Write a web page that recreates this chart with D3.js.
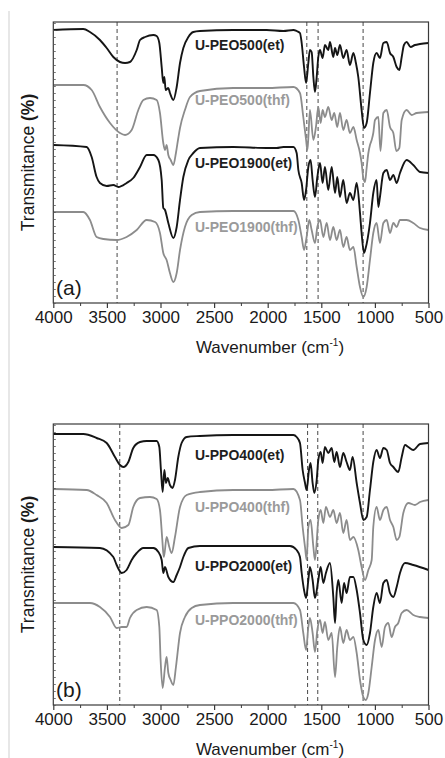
<!DOCTYPE html>
<html><head><meta charset="utf-8">
<script src="https://cdn.jsdelivr.net/npm/d3@7"></script>
<style>body{margin:0;background:#fff}svg{display:block}text{font-family:"Liberation Sans",Arial,sans-serif}</style>
</head><body><svg id="c" width="445" height="758"></svg>
<script>
// ---------- DATA (wavenumber cm-1, transmittance a.u. incl. offset) ----------
const xTicks = [4000,3500,3000,2500,2000,1500,1000,500];
const xMinorTicks = [3750,3250,2750,2250,1750,1250,750];
const panelNames = ["(a)","(b)"];
const labelsA = ["U-PEO500(et)","U-PEO500(thf)","U-PEO1900(et)","U-PEO1900(thf)"];
const labelsB = ["U-PPO400(et)","U-PPO400(thf)","U-PPO2000(et)","U-PPO2000(thf)"];
const dashesA = [3405,1635,1530,1110];
const dashesB = [3380,1628,1533,1110];

const peo500et = [[4000,273],[3720,274],[3658,271],[3565,263],[3502,255],[3440,246],[3378,241],[3331,240],[3285,241],[3222,253],[3191,263],[3144,266],[3067,268],[3036,267],[3011,260],[2989,236],[2974,220],[2964,226],[2952,213],[2927,215],[2912,210],[2880,203],[2849,216],[2818,240],[2787,255],[2740,266],[2694,271],[2632,272],[2321,273],[2010,273],[1854,272],[1760,273],[1730,272],[1699,270],[1683,260],[1661,236],[1642,220],[1621,240],[1606,253],[1590,251],[1574,226],[1559,211],[1543,226],[1528,246],[1512,253],[1488,245],[1466,258],[1435,253],[1419,261],[1388,246],[1372,255],[1351,248],[1326,258],[1295,245],[1264,253],[1233,238],[1201,250],[1177,240],[1155,226],[1124,193],[1102,175],[1077,180],[1046,210],[1015,240],[984,250],[953,245],[921,260],[890,261],[859,250],[828,246],[797,236],[772,233],[750,246],[729,258],[704,261],[667,256],[626,258],[579,259],[500,260]];
const peo500thf = [[4000,218],[3720,218],[3642,213],[3565,196],[3471,180],[3378,170],[3331,168],[3269,173],[3207,193],[3160,203],[3098,205],[3036,203],[3005,190],[2974,160],[2958,153],[2943,158],[2927,148],[2905,143],[2880,138],[2856,150],[2834,165],[2818,175],[2772,193],[2725,206],[2632,212],[2321,215],[2010,215],[1760,216],[1699,210],[1668,186],[1642,163],[1630,153],[1621,165],[1606,193],[1574,163],[1550,176],[1528,196],[1506,180],[1488,193],[1466,186],[1435,196],[1403,183],[1379,190],[1351,176],[1326,190],[1295,173],[1264,183],[1233,170],[1201,176],[1170,163],[1139,150],[1124,140],[1108,125],[1092,121],[1077,135],[1061,150],[1046,158],[1030,163],[1015,170],[999,183],[968,186],[948,152],[921,190],[890,193],[859,176],[828,170],[800,152],[772,155],[750,183],[704,193],[657,188],[611,190],[500,191]];
const peo1900et = [[4000,158],[3689,156],[3642,146],[3596,126],[3565,120],[3502,117],[3440,118],[3393,116],[3316,120],[3254,125],[3191,136],[3129,148],[3067,148],[3020,143],[2989,123],[2974,95],[2958,93],[2927,80],[2880,65],[2849,76],[2818,103],[2787,126],[2740,143],[2694,150],[2632,155],[2321,156],[2010,155],[1916,155],[1854,156],[1760,156],[1730,150],[1714,133],[1683,120],[1661,103],[1642,113],[1621,136],[1600,143],[1581,123],[1559,106],[1537,126],[1512,140],[1488,120],[1466,136],[1435,113],[1403,136],[1372,110],[1351,126],[1326,106],[1295,123],[1264,100],[1233,110],[1201,103],[1170,120],[1139,90],[1124,70],[1102,50],[1086,55],[1046,80],[1015,110],[984,123],[968,96],[953,106],[921,130],[890,133],[859,123],[828,128],[797,120],[766,130],[704,143],[642,138],[579,131],[500,130]];
const peo1900thf = [[4000,91],[3720,91],[3658,83],[3596,66],[3533,64],[3409,63],[3316,66],[3222,73],[3129,83],[3051,81],[3005,70],[2974,50],[2943,43],[2912,30],[2880,21],[2849,30],[2818,53],[2772,76],[2709,88],[2632,91],[2321,92],[2010,92],[1760,92],[1714,83],[1683,66],[1661,53],[1637,66],[1612,83],[1590,73],[1559,60],[1537,76],[1512,83],[1481,66],[1450,80],[1419,63],[1388,76],[1357,63],[1326,73],[1295,56],[1264,66],[1233,53],[1201,56],[1170,36],[1139,16],[1108,6],[1077,16],[1046,43],[1015,70],[984,80],[953,60],[921,80],[890,83],[859,70],[828,80],[797,76],[766,83],[704,83],[642,80],[579,75],[500,73]];

const ppo400et = [[4000,271],[3720,271],[3596,267],[3502,262],[3425,248],[3378,240],[3347,238],[3300,243],[3254,257],[3191,263],[3129,264],[3036,264],[3011,258],[2996,235],[2980,213],[2964,235],[2949,222],[2933,227],[2912,220],[2887,217],[2865,225],[2834,248],[2803,262],[2756,268],[2632,269],[2321,270],[2010,270],[1760,270],[1730,268],[1699,262],[1674,235],[1652,222],[1637,215],[1615,235],[1600,242],[1581,222],[1565,212],[1543,225],[1528,245],[1506,253],[1488,242],[1466,258],[1435,252],[1403,257],[1379,243],[1357,253],[1326,238],[1295,252],[1264,243],[1233,235],[1208,248],[1170,222],[1139,202],[1108,185],[1077,188],[1046,215],[1015,243],[984,255],[953,247],[921,257],[890,255],[859,242],[828,238],[782,233],[750,248],[719,260],[688,258],[642,255],[579,261],[500,262]];
const ppo400thf = [[4000,216],[3689,215],[3596,210],[3502,202],[3425,185],[3362,177],[3300,180],[3254,198],[3191,207],[3098,208],[3036,206],[3005,195],[2983,165],[2974,152],[2968,148],[2943,168],[2918,158],[2896,152],[2865,168],[2818,198],[2756,210],[2632,213],[2321,215],[2010,215],[1760,216],[1699,205],[1674,178],[1652,158],[1637,145],[1621,178],[1600,185],[1574,158],[1559,145],[1528,185],[1506,195],[1481,182],[1457,198],[1419,188],[1388,195],[1357,182],[1326,192],[1295,172],[1264,185],[1233,165],[1201,168],[1155,155],[1124,138],[1092,125],[1061,135],[1030,145],[1015,178],[984,198],[953,185],[921,195],[890,198],[859,185],[828,178],[797,165],[772,168],[735,192],[688,202],[626,200],[579,203],[500,205]];
const ppo2000et = [[4000,158],[3565,157],[3440,148],[3409,140],[3362,132],[3316,135],[3269,145],[3222,152],[3160,157],[3067,157],[3020,153],[2989,145],[2974,132],[2958,138],[2927,128],[2880,123],[2849,130],[2818,138],[2787,148],[2740,157],[2632,159],[2321,159],[2010,159],[1792,159],[1730,155],[1699,148],[1683,132],[1661,115],[1642,107],[1621,125],[1606,138],[1581,125],[1559,107],[1528,125],[1506,138],[1481,122],[1457,132],[1419,142],[1388,108],[1372,82],[1357,112],[1341,125],[1310,102],[1288,122],[1264,112],[1233,128],[1201,128],[1170,115],[1139,92],[1108,65],[1077,60],[1046,72],[1015,98],[984,112],[953,102],[921,122],[890,125],[859,112],[828,108],[797,118],[766,132],[719,142],[642,140],[500,135]];
const ppo2000thf = [[4000,102],[3658,102],[3565,98],[3471,88],[3409,77],[3362,78],[3316,78],[3285,87],[3222,95],[3129,98],[3036,95],[3011,78],[2999,45],[2980,17],[2958,38],[2943,48],[2927,32],[2905,25],[2880,20],[2856,38],[2818,72],[2772,88],[2709,97],[2632,100],[2321,102],[2010,102],[1760,102],[1699,95],[1668,72],[1642,55],[1621,78],[1606,87],[1581,72],[1559,53],[1537,75],[1512,85],[1488,72],[1466,83],[1435,65],[1403,72],[1372,28],[1351,58],[1326,78],[1295,62],[1264,75],[1233,65],[1201,68],[1170,52],[1139,25],[1108,8],[1086,5],[1061,12],[1030,38],[999,65],[968,75],[937,58],[906,78],[875,82],[844,68],[813,78],[782,82],[750,92],[704,95],[642,90],[579,88],[500,87]];

// ---------- DRAW ----------
const svg = d3.select("#c");
svg.append("line").attr("x1",9).attr("x2",9).attr("y1",11).attr("y2",758)
  .attr("stroke","#cfcfcf").attr("stroke-width",1);

const L = 53.3, R = 428.5;
const BLACK = "#151515", GRAY = "#8c8c8c";

function panel(top, name, labels, curves, dashes, labelY){
  const bottom = top + 281;
  const x = d3.scaleLinear().domain([4000,500]).range([L,R]);
  const y = d3.scaleLinear().domain([0,281]).range([bottom,top]);
  const g = svg.append("g");

  // dashed reference lines
  g.selectAll(".d").data(dashes).join("line")
    .attr("x1",d=>x(d)).attr("x2",d=>x(d)).attr("y1",top).attr("y2",bottom)
    .attr("stroke","#333").attr("stroke-width",0.9).attr("stroke-dasharray","4,3");

  // curves
  const line = d3.line().x(d=>x(d[0])).y(d=>y(d[1])).curve(d3.curveMonotoneX);
  curves.forEach((c,i)=>{
    g.append("path").attr("d",line(c)).attr("fill","none")
      .attr("stroke", i%2===0?BLACK:GRAY).attr("stroke-width", i%2===0?1.9:1.8)
      .attr("stroke-linejoin","round");
  });

  // frame
  g.append("rect").attr("x",L).attr("y",top).attr("width",R-L).attr("height",281)
    .attr("fill","none").attr("stroke","#3a3a3a").attr("stroke-width",1.2);

  // x axis
  const ax = g.append("g").attr("transform",`translate(0,${bottom})`)
    .call(d3.axisBottom(x).tickValues(xTicks).tickSize(5).tickPadding(3).tickFormat(d3.format("d")));
  ax.select(".domain").remove();
  ax.selectAll("line").attr("stroke","#3a3a3a").attr("stroke-width",1.2);
  ax.selectAll("text").attr("font-size",17).attr("fill","#1a1a1a")
    .attr("font-family",'"Liberation Sans",Arial,sans-serif');
  const axm = g.append("g").attr("transform",`translate(0,${bottom})`)
    .call(d3.axisBottom(x).tickValues(xMinorTicks).tickSize(3).tickFormat(""));
  axm.select(".domain").remove();
  axm.selectAll("line").attr("stroke","#3a3a3a").attr("stroke-width",1);

  // y minor ticks (no labels)
  const ay = g.append("g").attr("transform",`translate(${L},0)`)
    .call(d3.axisRight(y).tickValues(d3.range(0,281,7)).tickSize(2.5).tickFormat(""));
  ay.select(".domain").remove();
  ay.selectAll("line").attr("stroke","#555").attr("stroke-width",0.8);

  // axis titles
  const xt = g.append("text").attr("x",270).attr("y",bottom+50).attr("text-anchor","middle")
    .attr("font-size",17).attr("fill","#1a1a1a");
  xt.append("tspan").text("Wavenumber (cm");
  xt.append("tspan").text("-1").attr("font-size",10).attr("dy",-7);
  xt.append("tspan").text(")").attr("dy",7);

  const yt = g.append("text").attr("transform",`translate(34,${(top+bottom)/2}) rotate(-90)`)
    .attr("text-anchor","middle").attr("font-size",17.5).attr("fill","#1a1a1a");
  yt.append("tspan").text("Transmitance ");
  yt.append("tspan").text("(%)").attr("font-weight","bold");

  // panel letter
  g.append("text").attr("x",56).attr("y",bottom-8).attr("font-size",21).attr("fill","#1a1a1a").text(name);

  // curve labels
  labels.forEach((t,i)=>{
    g.append("text").attr("x",195).attr("y",labelY[i]).attr("font-size",14)
      .attr("font-weight","bold").attr("fill", i%2===0?"#1e1e1e":"#9a9a9a").text(t);
  });
}

panel(22, panelNames[0], labelsA, [peo500et,peo500thf,peo1900et,peo1900thf], dashesA, [50,105,168,232]);
panel(424, panelNames[1], labelsB, [ppo400et,ppo400thf,ppo2000et,ppo2000thf], dashesB, [460,512,571,625]);
</script></body></html>
